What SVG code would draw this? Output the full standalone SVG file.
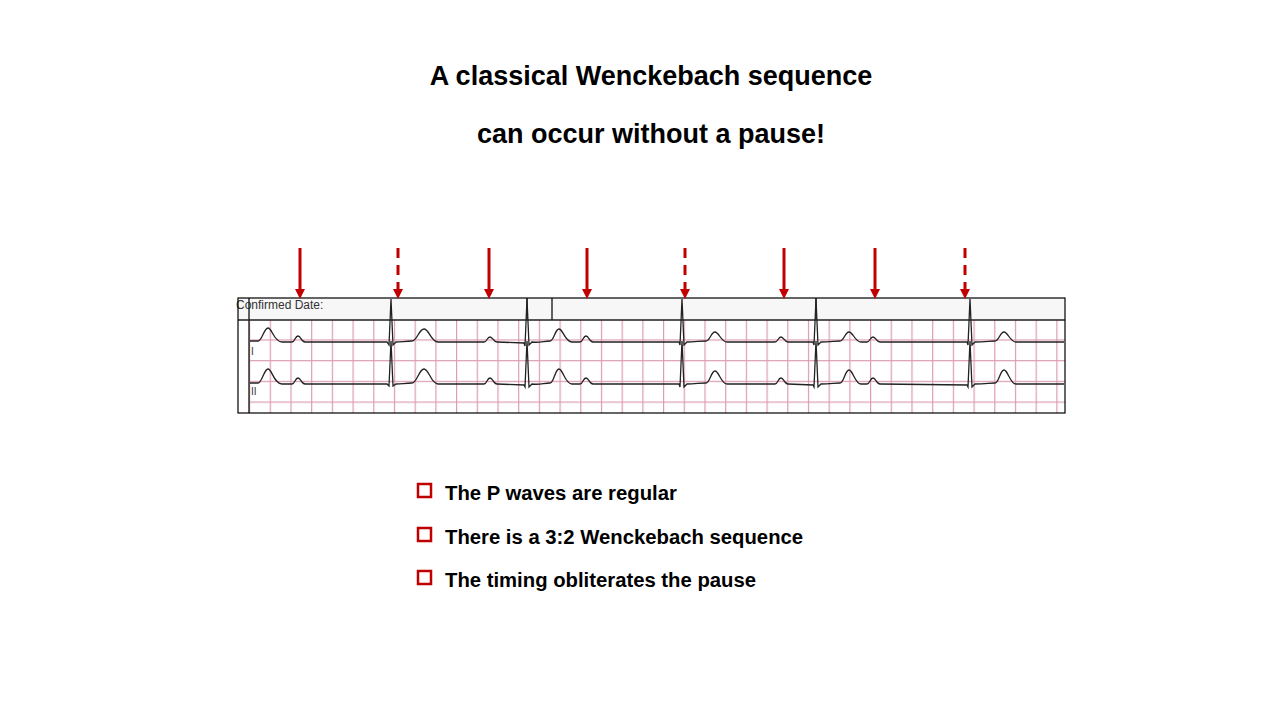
<svg xmlns="http://www.w3.org/2000/svg" width="1280" height="720" viewBox="0 0 1280 720">
<defs>
<style>
.t{font-family:"Liberation Sans",Arial,sans-serif;font-weight:bold;font-size:27px;text-anchor:middle;fill:#000}
.b{font-family:"Liberation Sans",Arial,sans-serif;font-weight:bold;font-size:20.3px;fill:#000}
.arr{stroke:#c00000;stroke-width:3;fill:none}
.dash{stroke-dasharray:10 7}
.head{fill:#c00000}
.ecg{stroke:#222;stroke-width:1.3;fill:none}
.box{fill:none;stroke:#c00000;stroke-width:2.5}
</style>
<pattern id="grid" x="249" y="298" width="20.7" height="20.7" patternUnits="userSpaceOnUse">
<path d="M0.6 0V20.7" stroke="#dc9cb4" stroke-width="1.2"/>
<path d="M0 0.6H20.7" stroke="#dc9cb4" stroke-width="1.2"/>
</pattern>
</defs>
<rect width="1280" height="720" fill="#fff"/>
<text class="t" x="651" y="85">A classical Wenckebach sequence</text>
<text class="t" x="651" y="143">can occur without a pause!</text>
<g id="strip">
<rect x="238" y="298" width="827" height="115" fill="#fff"/>
<rect x="249" y="320" width="816" height="93" fill="url(#grid)"/>
<rect x="238" y="298" width="827" height="22" fill="#f7f7f7"/>
<text x="236" y="309" font-family="Liberation Sans,Arial,sans-serif" font-size="12" fill="#333">Confirmed Date:</text>
<path d="M249 298V413M238 320H1065M527 298V320M552 298V320M816 298V320" stroke="#222" stroke-width="1.4"/>
<text x="251" y="355" font-family="Liberation Sans,Arial,sans-serif" font-size="10" fill="#333">I</text>
<text x="251" y="395" font-family="Liberation Sans,Arial,sans-serif" font-size="10" fill="#333">II</text>
<rect x="238" y="298" width="827" height="115" fill="none" stroke="#000" stroke-width="1.2"/>
</g>
<g id="ecg-I" class="ecg">
<path d="M250 341L258 341C262 341 264 328 268 328C272 328 274 342 282 342L292 342C295 342 295 336 298 336C301 336 301 342 305 342L387 342L389 345L391 299L393 345L396 342C402 342 405 341 412 341C417 341 419 329 424 329C429 329 431 342 438 342L484 342C487 342 487 337 490 337C493 337 493 342 497 342L524 343L525 346L527 299L529 345L532 342C540 343 544 341 550 341C554 341 555 329 559 329C563 329 565 342 572 342L580 342C583 342 583 336 586 336C589 336 589 342 593 342L679 342L680 345L682 299L684 345L687 342C695 342 700 341 706 341C710 341 711 332 715 332C719 332 721 342 727 342L775 342C778 342 778 337 781 337C784 337 784 342 788 342L813 342L814 345L816 299L818 345L821 342C830 342 835 341 840 341C844 341 845 332 849 332C853 332 855 342 861 342L867 342C870 342 870 337 873 337C876 337 876 342 880 342L967 342L968 345L970 299L972 345L975 342C985 342 990 341 995 341C999 341 1000 332 1004 332C1008 332 1010 342 1016 342L1064 342"/>
</g>
<g id="ecg-II" class="ecg">
<path d="M250 383L258 383C262 383 264 369 268 369C272 369 274 384 282 384L292 384C295 384 295 378 298 378C301 378 301 384 305 384L387 384L389 386L391 341L393 386L396 384C402 384 405 383 412 383C417 383 419 369 424 369C429 369 431 384 438 384L484 384C487 384 487 378 490 378C493 378 493 384 497 384L524 385L525 387L527 341L529 387L532 384C540 385 544 383 550 383C554 383 555 369 559 369C563 369 565 384 572 384L580 384C583 384 583 378 586 378C589 378 589 384 593 384L679 384L680 387L682 341L684 387L687 384C695 384 700 383 706 383C710 383 711 371 715 371C719 371 721 384 727 384L775 384C778 384 778 378 781 378C784 378 784 384 788 384L813 385L814 387L816 341L818 387L821 384C830 384 835 383 840 383C844 383 845 370 849 370C853 370 855 384 861 384L867 384C870 384 870 378 873 378C876 378 876 384 880 384L967 385L968 387L970 341L972 387L975 384C985 384 990 383 995 383C999 383 1000 370 1004 370C1008 370 1010 384 1016 384L1064 384"/>
</g>
<g id="arrows">
<path class="arr" d="M300 248V290"/><path class="head" d="M295 289H305L300 299Z"/>
<path class="arr dash" d="M398 248V290"/><path class="head" d="M393 289H403L398 299Z"/>
<path class="arr" d="M489 248V290"/><path class="head" d="M484 289H494L489 299Z"/>
<path class="arr" d="M587 248V290"/><path class="head" d="M582 289H592L587 299Z"/>
<path class="arr dash" d="M685 248V290"/><path class="head" d="M680 289H690L685 299Z"/>
<path class="arr" d="M784 248V290"/><path class="head" d="M779 289H789L784 299Z"/>
<path class="arr" d="M875 248V290"/><path class="head" d="M870 289H880L875 299Z"/>
<path class="arr dash" d="M965 248V290"/><path class="head" d="M960 289H970L965 299Z"/>
</g>
<g id="bullets">
<rect class="box" x="418" y="484" width="13" height="13"/>
<text class="b" x="445" y="500">The P waves are regular</text>
<rect class="box" x="418" y="528" width="13" height="13"/>
<text class="b" x="445" y="544">There is a 3:2 Wenckebach sequence</text>
<rect class="box" x="418" y="571" width="13" height="13"/>
<text class="b" x="445" y="587">The timing obliterates the pause</text>
</g>
</svg>
